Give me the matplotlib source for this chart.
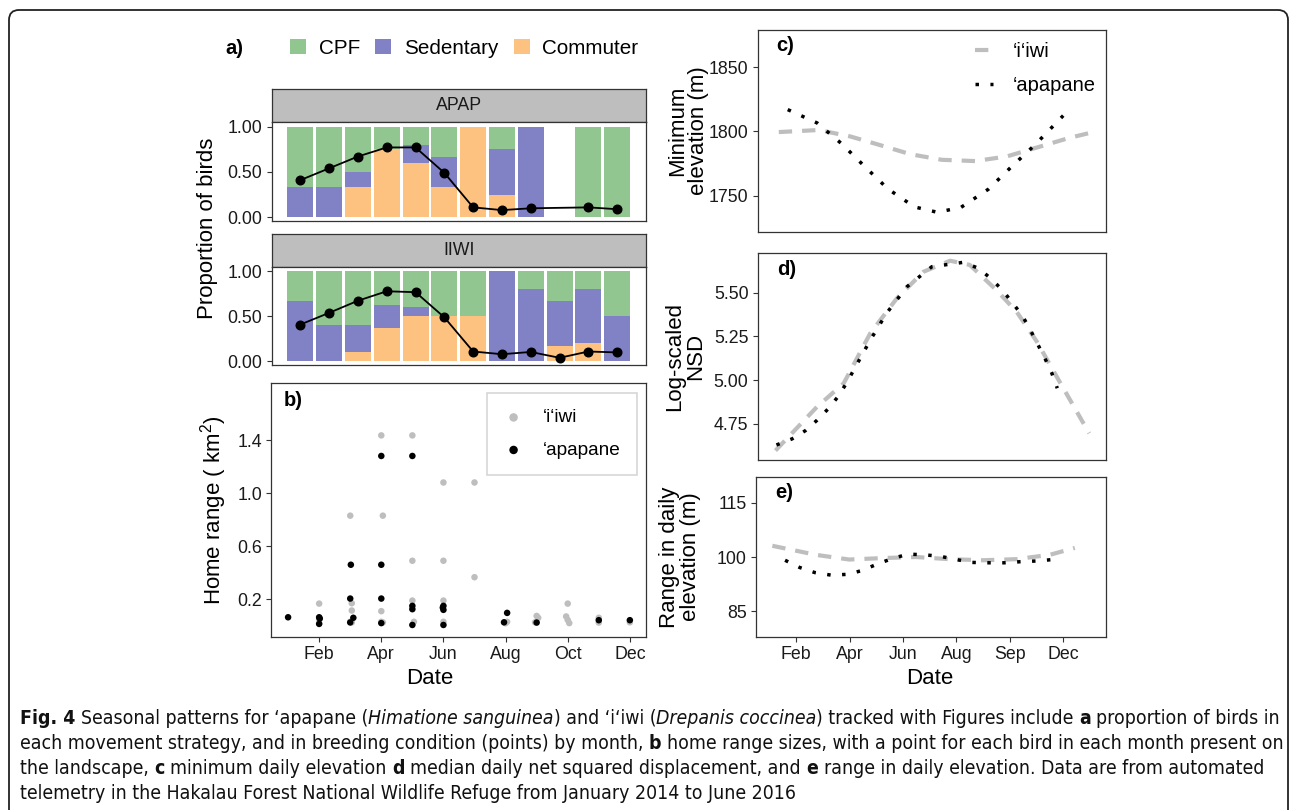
import numpy as np
import matplotlib
matplotlib.use('Agg')
import matplotlib.pyplot as plt
from matplotlib.patches import Patch, FancyBboxPatch
from matplotlib import font_manager as fm
from matplotlib.transforms import IdentityTransform

# ---------------- data ----------------
months = [1, 2, 3, 4, 5, 6, 7, 8, 9, 10, 11, 12]
strategies = ["CPF", "Sedentary", "Commuter"]

apap_cpf  = [0.667, 0.667, 0.500, 0.250, 0.200, 0.333, 0.000, 0.250, 0.000, 0.000, 1.000, 1.000]
apap_sed  = [0.333, 0.333, 0.167, 0.000, 0.200, 0.333, 0.000, 0.500, 1.000, 0.000, 0.000, 0.000]
apap_comm = [0.000, 0.000, 0.333, 0.750, 0.600, 0.333, 1.000, 0.250, 0.000, 0.000, 0.000, 0.000]
apap_breed = [0.41, 0.54, 0.67, 0.77, 0.77, 0.49, 0.11, 0.08, 0.10, np.nan, 0.11, 0.09]

iiwi_cpf  = [0.333, 0.600, 0.600, 0.375, 0.400, 0.500, 0.500, 0.000, 0.200, 0.333, 0.200, 0.500]
iiwi_sed  = [0.667, 0.400, 0.300, 0.250, 0.100, 0.000, 0.000, 1.000, 0.800, 0.500, 0.600, 0.500]
iiwi_comm = [0.000, 0.000, 0.100, 0.375, 0.500, 0.500, 0.500, 0.000, 0.000, 0.167, 0.200, 0.000]
iiwi_breed = [0.41, 0.54, 0.675, 0.78, 0.77, 0.49, 0.11, 0.08, 0.105, 0.04, 0.11, 0.10]

# panel b: home range (km2), one point per bird-month
iiwi_hr_month = [2.0, 2.0, 2.0, 3.0, 3.05, 3.05, 3.0, 3.05, 4.0, 4.05, 4.0, 4.0, 4.05,
                 5.0, 5.0, 5.0, 5.05, 6.0, 6.0, 6.0, 6.0, 7.0, 7.0, 8.0, 8.05,
                 9.0, 9.05, 8.95, 10.0, 9.95, 10.0, 10.05, 11.0, 11.0, 12.0]
iiwi_hr_value = [0.167, 0.05, 0.02, 0.83, 0.17, 0.115, 0.03, 0.025, 1.435, 0.83, 0.11, 0.03, 0.025,
                 1.435, 0.49, 0.19, 0.03, 1.08, 0.49, 0.19, 0.03, 1.08, 0.366, 0.019, 0.03,
                 0.074, 0.06, 0.026, 0.167, 0.07, 0.044, 0.02, 0.06, 0.024, 0.026]
apap_hr_month = [1.0, 2.0, 2.02, 2.0, 3.02, 3.0, 3.1, 3.0, 4.0, 4.0, 4.0, 4.0,
                 5.0, 5.0, 5.0, 5.0, 6.0, 5.98, 6.0, 6.0, 8.05, 7.95, 9.0, 11.0, 12.0]
apap_hr_value = [0.064, 0.064, 0.054, 0.014, 0.46, 0.205, 0.06, 0.025, 1.28, 0.46, 0.205, 0.02,
                 1.28, 0.15, 0.125, 0.006, 0.15, 0.137, 0.12, 0.006, 0.097, 0.026, 0.024, 0.042, 0.042]
b_ticks = [2, 4, 6, 8, 10, 12]
b_ticklabels = ["Feb", "Apr", "Jun", "Aug", "Oct", "Dec"]

# panels c-e (x = day of year)
cde_ticks = [50, 100, 150, 200, 250, 300]
cde_ticklabels = ["Feb", "Apr", "Jun", "Aug", "Sep", "Dec"]

c_iiwi_day = [32.5, 70, 99.7, 127.9, 156, 185.7, 217, 246.7, 276.4, 306, 324.2]
c_iiwi_val = [1799.5, 1801.1, 1796.1, 1789.3, 1782.3, 1777.9, 1776.9, 1780.5, 1787.8, 1795.1, 1798.7]
c_apap_day = [40.9, 68.5, 91.6, 113.2, 135.1, 160, 181.6, 203.8, 229.5, 250.8, 273.3, 299.8]
c_apap_val = [1817.0, 1806.6, 1790.4, 1772.7, 1755.2, 1741.2, 1737.0, 1740.9, 1755.0, 1772.2, 1789.6, 1812.3]

d_iiwi_day = [29.4, 68.5, 93.5, 118.5, 143.5, 168.5, 193.5, 212, 237, 256, 275, 293.7, 324.2]
d_iiwi_val = [4.596, 4.847, 4.981, 5.268, 5.468, 5.62, 5.683, 5.659, 5.515, 5.391, 5.22, 5.019, 4.695]
d_apap_day = [30.3, 45, 57.5, 68.5, 79.4, 88.7, 96.6, 103.8, 118.5, 134.1, 152.9, 176.4, 206,
              220, 231.7, 242.6, 252, 261.4, 268.6, 275.4, 282.6, 288.9, 294.2]
d_apap_val = [4.628, 4.663, 4.71, 4.77, 4.838, 4.909, 4.987, 5.067, 5.229, 5.385, 5.534, 5.649, 5.674,
              5.64, 5.582, 5.515, 5.443, 5.368, 5.29, 5.21, 5.124, 5.042, 4.953]

e_iiwi_day = [27.8, 68.5, 99.7, 131, 162, 193.5, 224.8, 256, 287.3, 310.8]
e_iiwi_val = [103.1, 100.6, 99.3, 99.7, 100.0, 99.4, 99.1, 99.4, 100.6, 102.5]
e_apap_day = [39.7, 53.4, 67.5, 82.5, 98.1, 112.2, 126.3, 140.3, 155, 170, 184.8, 199.8,
              214.8, 230, 245, 260, 275, 290.5]
e_apap_val = [99.1, 97.1, 95.7, 95.0, 95.2, 96.3, 98.1, 99.6, 100.8, 100.6, 100.2, 99.3,
              98.5, 98.4, 98.4, 98.7, 98.9, 99.3]

# ---------------- style ----------------
W, H = 1290, 810
plt.rcParams['font.family'] = ['Liberation Sans', 'DejaVu Sans']
plt.rcParams['mathtext.fontset'] = 'custom'
plt.rcParams['mathtext.rm'] = 'Liberation Sans'

C_CPF, C_SED, C_COM = '#91C690', '#8181C6', '#FDC27F'
GREY = '#BEBEBE'
SPINE = '#333333'
TICK_FS = 12.8
LAB_FS = 16

fig = plt.figure(figsize=(W / 100, H / 100), dpi=100)


def rect(l, t, r, b):
    return [l / W, 1 - b / H, (r - l) / W, (b - t) / H]


def style(ax, xticks=True):
    for s in ax.spines.values():
        s.set_color(SPINE)
        s.set_linewidth(0.9)
    ax.tick_params(length=3.5, width=0.8, color=SPINE, labelsize=TICK_FS,
                   labelcolor='#1a1a1a', pad=3)
    if not xticks:
        ax.tick_params(axis='x', length=0, labelbottom=False)


def ftext(x, y, s, **kw):
    return fig.text(x / W, 1 - y / H, s, **kw)


# ---------------- panel a ----------------
def facet(axrect, striprect, label, cpf, sed, com, breed):
    sax = fig.add_axes(rect(*striprect))
    sax.set_facecolor('#BEBEBE')
    sax.set_xticks([]); sax.set_yticks([])
    for s in sax.spines.values():
        s.set_color(SPINE); s.set_linewidth(0.9)
    sax.text(0.5, 0.5, label, ha='center', va='center', fontsize=12.8,
             color='#1a1a1a', transform=sax.transAxes)
    ax = fig.add_axes(rect(*axrect))
    com = np.array(com); sed = np.array(sed); cpf = np.array(cpf)
    ax.bar(months, com, width=0.9, color=C_COM, linewidth=0)
    ax.bar(months, sed, width=0.9, bottom=com, color=C_SED, linewidth=0)
    ax.bar(months, cpf, width=0.9, bottom=com + sed, color=C_CPF, linewidth=0)
    b = np.array(breed, dtype=float)
    m = np.array(months)[~np.isnan(b)]
    ax.plot(m, b[~np.isnan(b)], color='black', lw=1.3, marker='o', ms=6.2, zorder=5)
    ax.set_xlim(0.0, 13.0)
    ax.set_ylim(-0.04, 1.05)
    ax.set_yticks([0, 0.5, 1.0])
    ax.set_yticklabels(["0.00", "0.50", "1.00"])
    style(ax, xticks=False)
    return ax


facet((271.5, 122, 646, 221), (271.5, 89, 646, 122), "APAP",
      apap_cpf, apap_sed, apap_comm, apap_breed)
facet((271.5, 267, 646, 365), (271.5, 234, 646, 267), "IIWI",
      iiwi_cpf, iiwi_sed, iiwi_comm, iiwi_breed)

handles = [Patch(facecolor=c, edgecolor='none', label=l)
           for c, l in zip([C_CPF, C_SED, C_COM], strategies)]
fig.legend(handles=handles, loc='center left', bbox_to_anchor=(290 / W, 1 - 48 / H),
           ncol=3, frameon=False, fontsize=14.9, handlelength=0.78, handleheight=0.78,
           handletextpad=0.6, columnspacing=0.75, borderpad=0, borderaxespad=0)
ftext(234, 48, "a)", fontsize=14.5, fontweight='bold', ha='center', va='center')
ftext(207, 228, "Proportion of birds", fontsize=LAB_FS, rotation=90, ha='center', va='center')

# ---------------- panel b ----------------
axb = fig.add_axes(rect(271, 383, 646, 637.3))
axb.scatter(iiwi_hr_month, iiwi_hr_value, s=22, color=GREY, edgecolors='none',
            label="\u2018i\u2018iwi", zorder=3)
axb.scatter(apap_hr_month, apap_hr_value, s=22, color='black', edgecolors='none',
            label="\u2018apapane", zorder=4)
axb.set_xlim(0.45, 12.52)
axb.set_ylim(-0.087, 1.83)
axb.set_xticks(b_ticks)
axb.set_xticklabels(b_ticklabels)
axb.set_yticks([0.2, 0.6, 1.0, 1.4])
axb.set_yticklabels(["0.2", "0.6", "1.0", "1.4"])
style(axb)
lg = axb.legend(loc='upper right', bbox_to_anchor=(0.976, 0.961), fontsize=13.7,
                frameon=True, fancybox=False, borderpad=0.85, borderaxespad=0,
                handlelength=1.1, handletextpad=1.0, labelspacing=0.8, markerscale=1.3)
lg.get_frame().set_edgecolor('#C8C8C8')
lg.get_frame().set_linewidth(1.1)
axb.text(0.035, 0.93, "b)", transform=axb.transAxes, fontsize=14.5, fontweight='bold',
         ha='left', va='center')
ftext(214, 510, "Home range ( km$^2$)", fontsize=LAB_FS, rotation=90, ha='center', va='center')
ftext(430, 678, "Date", fontsize=LAB_FS, ha='center', va='center')

# ---------------- panels c-e ----------------
DASH = dict(color=GREY, lw=3.0, linestyle=(0, (3.2, 2.4)), dash_capstyle='butt')
DOT = dict(color='black', lw=2.5, linestyle=(0, (1, 3.3)), dash_capstyle='butt')
XL = (12.5, 340)
YL_KW = dict(fontsize=LAB_FS, rotation=90, ha='center', va='center', linespacing=1.0,
             multialignment='center')

axc = fig.add_axes(rect(757.5, 30, 1106, 231.7))
axc.plot(c_iiwi_day, c_iiwi_val, label="\u2018i\u2018iwi", **DASH)
axc.plot(c_apap_day, c_apap_val, label="\u2018apapane", **DOT)
axc.set_xlim(*XL)
axc.set_ylim(1721.9, 1879)
axc.set_yticks([1750, 1800, 1850])
axc.set_xticks(cde_ticks)
style(axc, xticks=False)
axc.legend(loc='upper left', bbox_to_anchor=(0.624, 0.94), frameon=False, fontsize=14.5,
           handlelength=0.9, handletextpad=1.0, labelspacing=0.75, borderpad=0,
           borderaxespad=0)
axc.text(0.055, 0.925, "c)", transform=axc.transAxes, fontsize=14.5, fontweight='bold',
         ha='left', va='center')
ftext(688, 131, "Minimum\nelevation (m)", **YL_KW)

axd = fig.add_axes(rect(757.5, 252.7, 1106, 460))
axd.plot(d_iiwi_day, d_iiwi_val, **DASH)
axd.plot(d_apap_day, d_apap_val, **DOT)
axd.set_xlim(*XL)
axd.set_ylim(4.542, 5.729)
axd.set_yticks([4.75, 5.0, 5.25, 5.5])
axd.set_yticklabels(["4.75", "5.00", "5.25", "5.50"])
axd.set_xticks(cde_ticks)
style(axd, xticks=False)
axd.text(0.055, 0.92, "d)", transform=axd.transAxes, fontsize=14.5, fontweight='bold',
         ha='left', va='center')
ftext(685, 356, "Log-scaled\nNSD", **YL_KW)

axe = fig.add_axes(rect(756, 476.7, 1106, 637.3))
axe.plot(e_iiwi_day, e_iiwi_val, **DASH)
axe.plot(e_apap_day, e_apap_val, **DOT)
axe.set_xlim(*XL)
axe.set_ylim(77.8, 122.2)
axe.set_yticks([85, 100, 115])
axe.set_xticks(cde_ticks)
axe.set_xticklabels(cde_ticklabels)
style(axe)
axe.text(0.055, 0.9, "e)", transform=axe.transAxes, fontsize=14.5, fontweight='bold',
         ha='left', va='center')
ftext(680, 557, "Range in daily\nelevation (m)", **YL_KW)
ftext(930, 678, "Date", fontsize=LAB_FS, ha='center', va='center')

# ---------------- frame ----------------
frame = FancyBboxPatch((9, -40), 1279, 840, boxstyle='round,pad=0,rounding_size=10',
                       transform=IdentityTransform(), fill=False, lw=1.3, ec='#222222')
fig.add_artist(frame)

# ---------------- caption ----------------
cap_family = ['Liberation Sans', 'DejaVu Sans']
cap_stretch = 'normal'
for cand, stt, tag in [('Liberation Sans Narrow', 'normal', 'Narrow'),
                       ('Liberation Sans', 'condensed', 'Narrow'),
                       ('Noto Sans', 'condensed', 'ondensed'),
                       ('Noto Sans', 'semi-condensed', 'ondensed'),
                       ('Roboto', 'condensed', 'ondensed'),
                       ('Open Sans', 'condensed', 'ondensed'),
                       ('DejaVu Sans', 'condensed', 'ondensed')]:
    try:
        p = fm.findfont(fm.FontProperties(family=cand, stretch=stt, weight='normal',
                                          style='normal'), fallback_to_default=False)
    except Exception:
        continue
    base_name = p.split('/')[-1]
    if tag in base_name and 'Bold' not in base_name and 'Light' not in base_name \
            and 'Italic' not in base_name:
        cap_family = [cand, 'DejaVu Sans']
        cap_stretch = stt
        break

N, B, I = ('normal', 'normal'), ('bold', 'normal'), ('normal', 'italic')
cap_lines = [
    [("Fig. 4", B), (" Seasonal patterns for \u2018apapane (", N), ("Himatione sanguinea", I),
     (") and \u2018i\u2018iwi (", N), ("Drepanis coccinea", I),
     (") tracked with Figures include ", N), ("a", B), (" proportion of birds in", N)],
    [("each movement strategy, and in breeding condition (points) by month, ", N), ("b", B),
     (" home range sizes, with a point for each bird in each month present on", N)],
    [("the landscape, ", N), ("c", B), (" minimum daily elevation ", N), ("d", B),
     (" median daily net squared displacement, and ", N), ("e", B),
     (" range in daily elevation. Data are from automated", N)],
    [("telemetry in the Hakalau Forest National Wildlife Refuge from January 2014 to June 2016", N)],
]
cap_baselines = [724, 749, 774, 799]
renderer = fig.canvas.get_renderer()


def twidth(s, size, w, st):
    t = fig.text(0, 0, s, fontsize=size, fontweight=w, fontstyle=st, family=cap_family,
                 fontstretch=cap_stretch)
    wd = t.get_window_extent(renderer).width
    t.remove()
    return wd


def seg_layout(segs, size, draw=False, x0=20, y=0):
    sp = twidth("x x", size, 'normal', 'normal') - twidth("xx", size, 'normal', 'normal')
    x = x0
    for s, (w, st) in segs:
        lead = len(s) - len(s.lstrip(' '))
        trail = len(s) - len(s.rstrip(' '))
        core = s.strip(' ')
        x += lead * sp
        if draw:
            fig.text(x / W, 1 - y / H, core, fontsize=size, fontweight=w, fontstyle=st,
                     family=cap_family, fontstretch=cap_stretch, ha='left', va='baseline',
                     color='#111111')
        x += twidth(core, size, w, st) + trail * sp
    return x - x0


base = 12.0
wline = seg_layout(cap_lines[1], base)
cap_size = min(base * 1262.0 / wline, 15.0)
for segs, yb in zip(cap_lines, cap_baselines):
    seg_layout(segs, cap_size, draw=True, x0=20, y=yb)

fig.savefig('out.png', dpi=100)
